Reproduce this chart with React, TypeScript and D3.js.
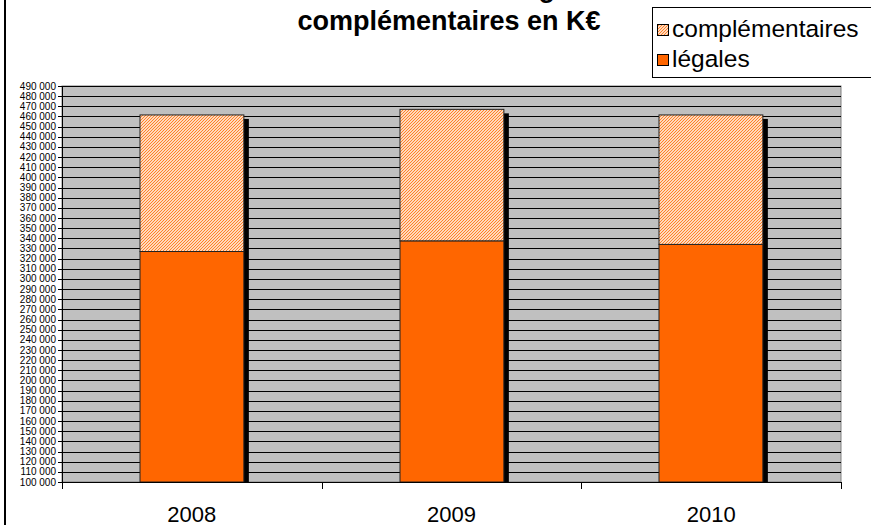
import React from "react";
import * as d3 from "d3";

const categories = ["2008", "2009", "2010"];
const legales = [327000, 337500, 334000];
const complementaires = [134500, 129500, 127500];
const yTicks = d3.range(100000, 490001, 10000);
const titleLines = ["Evolution des charges", "complémentaires en K€"];
const seriesNames = ["complémentaires", "légales"];

const W = 871;
const H = 525;
const M = { left: 62, right: 841, top: 86, bottom: 482 };

const fr = d3.formatLocale({ decimal: ",", thousands: " ", grouping: [3], currency: ["", " €"] });
const fmt = fr.format(",d");

export default function App() {
  const x = d3.scaleBand().domain(categories).range([M.left, M.right]).paddingInner(0).paddingOuter(0);
  const y = d3.scaleLinear().domain([100000, 490000]).range([M.bottom, M.top]);
  const bw = x.bandwidth() * 0.4;
  const font = "'Liberation Sans', Arial, sans-serif";
  const orange = "#FF6600";

  return (
    <svg width={W} height={H} style={{ position: "fixed", left: 0, top: 0, background: "#fff" }} fontFamily={font}>
      <defs>
        <pattern id="hatch" patternUnits="userSpaceOnUse" width="3" height="3">
          <rect width="3" height="3" fill="#fff" />
          <path d="M-1,1 l2,-2 M0,3 l3,-3 M2,4 l2,-2" stroke="#FF7A1A" strokeWidth="1.1" />
        </pattern>
      </defs>
      {/* chart border (left edge visible) */}
      <rect x={4} y={-5} width={2} height={H + 10} fill="#000" />

      {/* title */}
      <text x={441} y={-3} textAnchor="middle" fontSize={27} fontWeight="bold">{titleLines[0]}</text>
      <text x={449} y={30} textAnchor="middle" fontSize={27} fontWeight="bold">{titleLines[1]}</text>

      {/* plot area */}
      <rect x={M.left} y={M.top} width={M.right - M.left} height={M.bottom - M.top} fill="#C0C0C0" stroke="#808080" strokeWidth={1} />
      {yTicks.map((t) => (
        <line key={"g" + t} x1={M.left} x2={M.right} y1={Math.round(y(t)) + 0.5} y2={Math.round(y(t)) + 0.5} stroke="#000" strokeWidth={1} />
      ))}

      {/* bars */}
      {categories.map((c, i) => {
        const cx = (x(c) as number) + x.bandwidth() / 2;
        const bx = Math.round(cx - bw / 2);
        const yl = y(legales[i]);
        const yt = y(legales[i] + complementaires[i]);
        return (
          <g key={c}>
            <rect x={bx + 5} y={yt + 4} width={bw} height={M.bottom - yt - 4} fill="#000" />
            <rect x={bx} y={yl} width={bw} height={M.bottom - yl} fill={orange} stroke="#222" strokeWidth={1} />
            <rect x={bx} y={yt} width={bw} height={yl - yt} fill="url(#hatch)" stroke="#222" strokeWidth={1} />
          </g>
        );
      })}

      {/* axes */}
      <line x1={M.left + 0.5} x2={M.left + 0.5} y1={M.top} y2={M.bottom + 1} stroke="#000" />
      <line x1={M.left} x2={M.right} y1={M.bottom + 0.5} y2={M.bottom + 0.5} stroke="#000" />
      {yTicks.map((t) => (
        <g key={"t" + t}>
          <line x1={M.left - 4} x2={M.left} y1={Math.round(y(t)) + 0.5} y2={Math.round(y(t)) + 0.5} stroke="#000" />
          <text x={56} y={y(t)} dy="0.35em" textAnchor="end" fontSize={10}>{fmt(t)}</text>
        </g>
      ))}
      {[...categories.map((c) => x(c) as number), M.right].map((v, i) => (
        <line key={"xt" + i} x1={Math.round(v) + 0.5} x2={Math.round(v) + 0.5} y1={M.bottom} y2={M.bottom + 7} stroke="#000" />
      ))}
      {categories.map((c) => (
        <text key={"l" + c} x={(x(c) as number) + x.bandwidth() / 2} y={522} textAnchor="middle" fontSize={22}>{c}</text>
      ))}

      {/* legend */}
      <rect x={652.5} y={7.5} width={240} height={70} fill="#fff" stroke="#000" strokeWidth={1} />
      {seriesNames.map((s, i) => (
        <g key={s}>
          <rect x={657.5} y={24.5 + i * 30} width={11} height={11} fill={i === 0 ? "url(#hatch)" : orange} stroke="#000" />
          <text x={672} y={37 + i * 30} fontSize={24.5}>{s}</text>
        </g>
      ))}
    </svg>
  );
}
